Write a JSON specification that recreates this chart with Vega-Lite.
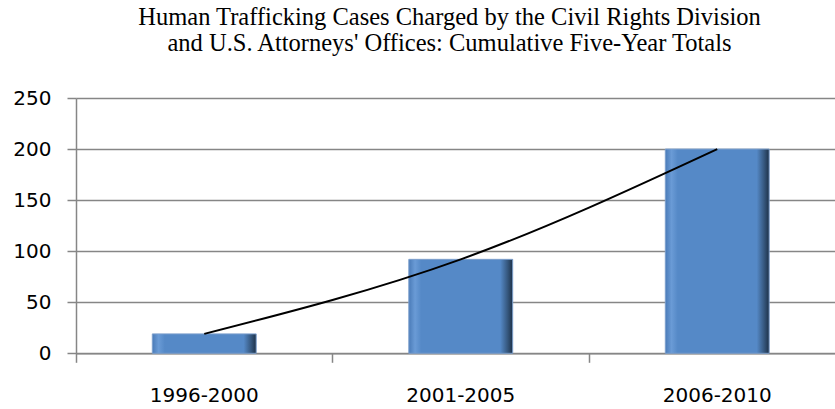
{
  "$schema": "https://vega.github.io/schema/vega-lite/v6.json",
  "width": 759,
  "height": 255.3,
  "autosize": "none",
  "padding": {"left": 76, "top": 98, "right": 0, "bottom": 55.7},
  "background": "white",
  "title": {
    "text": ["Human Trafficking Cases Charged by the Civil Rights Division", "and U.S. Attorneys' Offices: Cumulative Five-Year Totals"],
    "font": "Liberation Serif",
    "fontSize": 24.5,
    "fontWeight": "normal",
    "color": "black",
    "lineHeight": 26,
    "anchor": "middle",
    "offset": 32,
    "dx": -6
  },
  "data": {
    "values": [
      {"period": "1996-2000", "cases": 19},
      {"period": "2001-2005", "cases": 92},
      {"period": "2006-2010", "cases": 200}
    ]
  },
  "encoding": {
    "x": {
      "field": "period",
      "type": "nominal",
      "sort": null,
      "scale": {"range": [0, 769.5], "paddingInner": 0.595, "paddingOuter": 0.2975},
      "axis": {
        "title": null,
        "labelAngle": 0,
        "labelFont": "DejaVu Sans",
        "labelFontSize": 20,
        "labelColor": "black",
        "labelPadding": 23,
        "tickSize": 9,
        "tickColor": "#868686",
        "tickWidth": 1.5,
        "bandPosition": -0.734,
        "domainColor": "#868686",
        "domainWidth": 1.5,
        "grid": false
      }
    },
    "y": {
      "field": "cases",
      "type": "quantitative",
      "scale": {"domain": [0, 250], "nice": false},
      "axis": {
        "title": null,
        "values": [0, 50, 100, 150, 200, 250],
        "labelFont": "DejaVu Sans",
        "labelFontSize": 20,
        "labelColor": "black",
        "labelPadding": 16,
        "tickSize": 9,
        "tickColor": "#868686",
        "tickWidth": 1.5,
        "domainColor": "#868686",
        "domainWidth": 1.5,
        "grid": true,
        "gridColor": "#868686",
        "gridWidth": 1.5
      }
    }
  },
  "layer": [
    {
      "mark": {
        "type": "bar",
        "fill": {
          "gradient": "linear",
          "x1": 0, "y1": 0, "x2": 1, "y2": 0,
          "stops": [
            {"offset": 0, "color": "#4a7bb8"},
            {"offset": 0.06, "color": "#6a9bd6"},
            {"offset": 0.12, "color": "#5589c7"},
            {"offset": 0.88, "color": "#5589c7"},
            {"offset": 0.95, "color": "#36587f"},
            {"offset": 1, "color": "#1d3148"}
          ]
        },
        "stroke": "#7c9fcc",
        "strokeWidth": 1
      }
    },
    {
      "mark": {"type": "line", "interpolate": "natural", "color": "black", "strokeWidth": 2}
    }
  ],
  "config": {"view": {"stroke": null}}
}
